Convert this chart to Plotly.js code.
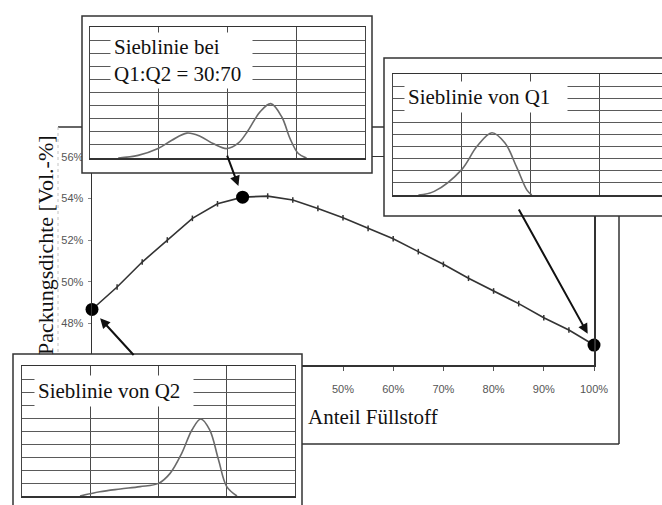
<!DOCTYPE html>
<html>
<head>
<meta charset="utf-8">
<script src="https://cdn.plot.ly/plotly-3.0.1.min.js"></script>
<style>
  html, body { margin: 0; padding: 0; background: #fff; }
  #chart { width: 662px; height: 505px; }
</style>
</head>
<body>
<div id="chart"></div>
<script>
// Packungsdichte in Abhängigkeit vom Füllstoffanteil (Mischung Q1/Q2)
const fillerShare = [0, 5, 10, 15, 20, 25, 30, 35, 40, 45, 50, 55, 60, 65, 70, 75, 80, 85, 90, 95, 100];
const packingDensity = [48.67, 49.75, 50.95, 52.01, 53.05, 53.75, 54.07, 54.12, 53.93, 53.53, 53.08,
                        52.57, 52.07, 51.45, 50.84, 50.17, 49.56, 48.95, 48.27, 47.68, 46.96];
// hervorgehobene Mischungen: reines Q2, Q1:Q2 = 30:70, reines Q1
const highlightIdx = [0, 6, 20];

// beschriftete Achsenwerte (die übrigen liegen unter dem Q2-Kasten)
const xTickVals = [50, 60, 70, 80, 90, 100];
const xMinorTicks = [0, 10, 20, 30, 40];
const yTickVals = [48, 50, 52, 54, 56];

// Sieblinien (x: Kornklasse, y: Häufigkeit)
const mixSize = [0.41, 0.70, 0.99, 1.19, 1.41, 1.60, 1.79, 1.99, 2.16, 2.30, 2.47, 2.63, 2.79, 2.91, 3.03, 3.15];
const mixFreq = [0, 0.2, 0.72, 1.35, 1.9, 1.66, 1.1, 0.72, 1.15, 2.1, 3.5, 4.15, 3.13, 1.48, 0.34, 0];

const q1Size = [0.37, 0.60, 1.00, 1.22, 1.44, 1.63, 1.80, 1.95, 2.02];
const q1Freq = [0, 0.3, 2.1, 4.0, 5.15, 4.3, 2.3, 0.4, 0];

const q2Size = [0.85, 1.14, 1.44, 1.73, 2.00, 2.17, 2.34, 2.49, 2.62, 2.75, 2.88, 3.00, 3.15];
const q2Freq = [0, 0.33, 0.54, 0.72, 0.97, 1.74, 3.28, 5.08, 5.92, 5.08, 2.77, 0.72, 0];

// ---- page geometry (pixels -> paper fractions) ----
const W = 662, H = 505;
const fx = px => px / W;
const fy = py => 1 - py / H;
const domX = (a, b) => [Math.max(0, fx(a)), Math.min(1, fx(b))];
const domY = (top, bottom) => [Math.max(0, fy(bottom)), Math.min(1, fy(top))];

const serif = 'Liberation Serif, Times New Roman, serif';
const narrow = 'Liberation Sans Narrow, Arial Narrow, Liberation Sans, Arial, sans-serif';

// inset boxes: outer frame and inner grid area
const insets = {
  mix: { frame: [82, 16, 372, 173], grid: [90, 27, 365, 158], cols: 4 },
  q1:  { frame: [384, 58, 700, 216], grid: [393, 74, 662, 195], cols: (662 - 393) / 68.7 },
  q2:  { frame: [13, 354, 302, 540], grid: [22, 366, 295, 496], cols: 4 }
};

function frameAxes(box) {
  const base = { showgrid: false, zeroline: false, showticklabels: false, ticks: '', showline: false, fixedrange: true, range: [0, 1] };
  return [
    Object.assign({}, base, { domain: domX(box[0], box[2]) }),
    Object.assign({}, base, { domain: domY(box[1], box[3]) })
  ];
}

function gridAxes(box, cols, mirrorRight) {
  const x = {
    domain: domX(box[0], box[2]), range: [0, cols], tick0: 0, dtick: 1,
    showgrid: true, gridcolor: '#4a4a4a', gridwidth: 1, zeroline: false,
    showticklabels: false, ticks: '', showline: true, mirror: true,
    linecolor: '#333', linewidth: 1.5, fixedrange: true
  };
  const y = {
    domain: domY(box[1], box[3]), range: [0, 10], tick0: 0, dtick: 1,
    showgrid: true, gridcolor: '#5a5a5a', gridwidth: 1, zeroline: false,
    showticklabels: false, ticks: '', showline: true, mirror: mirrorRight,
    linecolor: '#444', linewidth: 1, fixedrange: true
  };
  return [x, y];
}

const [x2, y2] = frameAxes(insets.mix.frame);
const [x3, y3] = gridAxes(insets.mix.grid, insets.mix.cols, true);
const [x4, y4] = frameAxes(insets.q1.frame);
const [x5, y5] = gridAxes(insets.q1.grid, insets.q1.cols, false);
const [x6, y6] = frameAxes(insets.q2.frame);
const [x7, y7] = gridAxes(insets.q2.grid, insets.q2.cols, true);

const curveStyle = { color: '#6a6a6a', width: 1.6, shape: 'spline', smoothing: 1 };

const traces = [
  {
    x: fillerShare, y: packingDensity, xaxis: 'x', yaxis: 'y',
    mode: 'lines+markers', hoverinfo: 'skip', cliponaxis: false,
    line: { color: '#333', width: 1.6 },
    marker: { symbol: 'line-ns', size: 4, color: '#333', line: { color: '#333', width: 1.5 } }
  },
  {
    x: highlightIdx.map(i => fillerShare[i]), y: highlightIdx.map(i => packingDensity[i]),
    xaxis: 'x', yaxis: 'y', mode: 'markers', hoverinfo: 'skip', cliponaxis: false,
    marker: { size: 13, color: '#000' }
  },
  { x: [], y: [], xaxis: 'x2', yaxis: 'y2', mode: 'lines', hoverinfo: 'skip' },
  { x: mixSize, y: mixFreq, xaxis: 'x3', yaxis: 'y3', mode: 'lines', line: curveStyle, hoverinfo: 'skip' },
  { x: [], y: [], xaxis: 'x4', yaxis: 'y4', mode: 'lines', hoverinfo: 'skip' },
  { x: q1Size, y: q1Freq, xaxis: 'x5', yaxis: 'y5', mode: 'lines', line: curveStyle, hoverinfo: 'skip' },
  { x: [], y: [], xaxis: 'x6', yaxis: 'y6', mode: 'lines', hoverinfo: 'skip' },
  { x: q2Size, y: q2Freq, xaxis: 'x7', yaxis: 'y7', mode: 'lines', line: curveStyle, hoverinfo: 'skip' }
];

// outer chart frame (behind everything) and inset borders (on top)
const frameLine = { color: '#333', width: 1.5 };
const shapes = [
  { type: 'line', xref: 'paper', yref: 'paper', layer: 'below', x0: fx(58), x1: fx(619), y0: fy(127), y1: fy(127), line: frameLine },
  { type: 'line', xref: 'paper', yref: 'paper', layer: 'below', x0: fx(619), x1: fx(619), y0: fy(127), y1: fy(444), line: frameLine },
  { type: 'line', xref: 'paper', yref: 'paper', layer: 'below', x0: fx(58), x1: fx(619), y0: fy(444), y1: fy(444), line: frameLine },
  { type: 'line', xref: 'paper', yref: 'paper', layer: 'below', x0: fx(58), x1: fx(58), y0: fy(127), y1: fy(444), line: { color: '#c4c4c4', width: 1, dash: 'dot' } }
];
Object.values(insets).forEach(b => {
  shapes.push({
    type: 'rect', xref: 'paper', yref: 'paper', layer: 'above',
    x0: fx(b.frame[0]), x1: fx(b.frame[2]), y0: fy(b.frame[3]), y1: fy(b.frame[1]),
    line: frameLine, fillcolor: 'rgba(0,0,0,0)'
  });
});

const labelFont = { family: serif, size: 21, color: '#111' };
const arrowStyle = { showarrow: true, arrowhead: 2, arrowsize: 1, arrowwidth: 2, arrowcolor: '#111', text: '', xref: 'x', yref: 'y' };

const annotations = [
  { text: 'Anteil Füllstoff', xref: 'paper', yref: 'paper', x: fx(306), y: fy(417), xanchor: 'left', yanchor: 'middle', showarrow: false, font: labelFont },
  { text: 'Packungsdichte [Vol.-%]', xref: 'paper', yref: 'paper', x: fx(45), y: fy(245), xanchor: 'center', yanchor: 'middle', textangle: -90, showarrow: false,
    font: { family: serif, size: 22, color: '#111' } },
  { text: 'Sieblinie bei<br>Q1:Q2 = 30:70', xref: 'paper', yref: 'paper', x: fx(110), y: fy(60), xanchor: 'left', yanchor: 'middle', align: 'left',
    showarrow: false, font: labelFont, bgcolor: '#fff', borderpad: 3, width: 135, height: 49 },
  { text: 'Sieblinie von Q1', xref: 'paper', yref: 'paper', x: fx(404), y: fy(97), xanchor: 'left', yanchor: 'middle', align: 'left',
    showarrow: false, font: labelFont, bgcolor: '#fff', borderpad: 3, width: 156 },
  { text: 'Sieblinie von Q2', xref: 'paper', yref: 'paper', x: fx(34), y: fy(391), xanchor: 'left', yanchor: 'middle', align: 'left',
    showarrow: false, font: labelFont, bgcolor: '#fff', borderpad: 3, width: 152 },
  Object.assign({}, arrowStyle, { x: fillerShare[highlightIdx[0]], y: packingDensity[highlightIdx[0]], ax: 43, ay: 47, standoff: 12 }),
  Object.assign({}, arrowStyle, { x: fillerShare[highlightIdx[1]], y: packingDensity[highlightIdx[1]], ax: -16, ay: -43, standoff: 12 }),
  Object.assign({}, arrowStyle, { x: fillerShare[highlightIdx[2]], y: packingDensity[highlightIdx[2]], ax: -76, ay: -137, standoff: 13 })
];

const tickFont = { family: narrow, size: 11, color: '#555' };

const layout = {
  width: W, height: H,
  margin: { l: 0, r: 0, t: 0, b: 0, pad: 0 },
  paper_bgcolor: '#fff', plot_bgcolor: '#fff',
  showlegend: false,
  xaxis: {
    domain: domX(92, 594), range: [0, 100],
    tickvals: xTickVals, ticktext: xTickVals.map(v => v + '%'),
    ticks: 'outside', ticklen: 4, tickwidth: 1, tickcolor: '#555',
    ticklabelstandoff: 9, tickfont: tickFont,
    minor: { tickvals: xMinorTicks, ticks: 'outside', ticklen: 4, tickwidth: 1, tickcolor: '#555', showgrid: false },
    showgrid: false, zeroline: false,
    showline: true, mirror: true, linecolor: '#333', linewidth: 1.5, fixedrange: true
  },
  yaxis: {
    domain: domY(157, 365), range: [46, 56],
    tickvals: yTickVals, ticktext: yTickVals.map(v => v + '%'),
    ticks: 'outside', ticklen: 3, tickwidth: 1, tickcolor: '#888',
    ticklabelstandoff: 2, tickfont: tickFont,
    showgrid: false, zeroline: false,
    showline: true, mirror: true, linecolor: '#333', linewidth: 1.5, fixedrange: true
  },
  xaxis2: Object.assign(x2, { anchor: 'y2' }), yaxis2: Object.assign(y2, { anchor: 'x2' }),
  xaxis3: Object.assign(x3, { anchor: 'y3' }), yaxis3: Object.assign(y3, { anchor: 'x3' }),
  xaxis4: Object.assign(x4, { anchor: 'y4' }), yaxis4: Object.assign(y4, { anchor: 'x4' }),
  xaxis5: Object.assign(x5, { anchor: 'y5' }), yaxis5: Object.assign(y5, { anchor: 'x5' }),
  xaxis6: Object.assign(x6, { anchor: 'y6' }), yaxis6: Object.assign(y6, { anchor: 'x6' }),
  xaxis7: Object.assign(x7, { anchor: 'y7' }), yaxis7: Object.assign(y7, { anchor: 'x7' }),
  shapes: shapes,
  annotations: annotations
};

Plotly.newPlot('chart', traces, layout, { staticPlot: true, displayModeBar: false });
</script>
</body>
</html>
